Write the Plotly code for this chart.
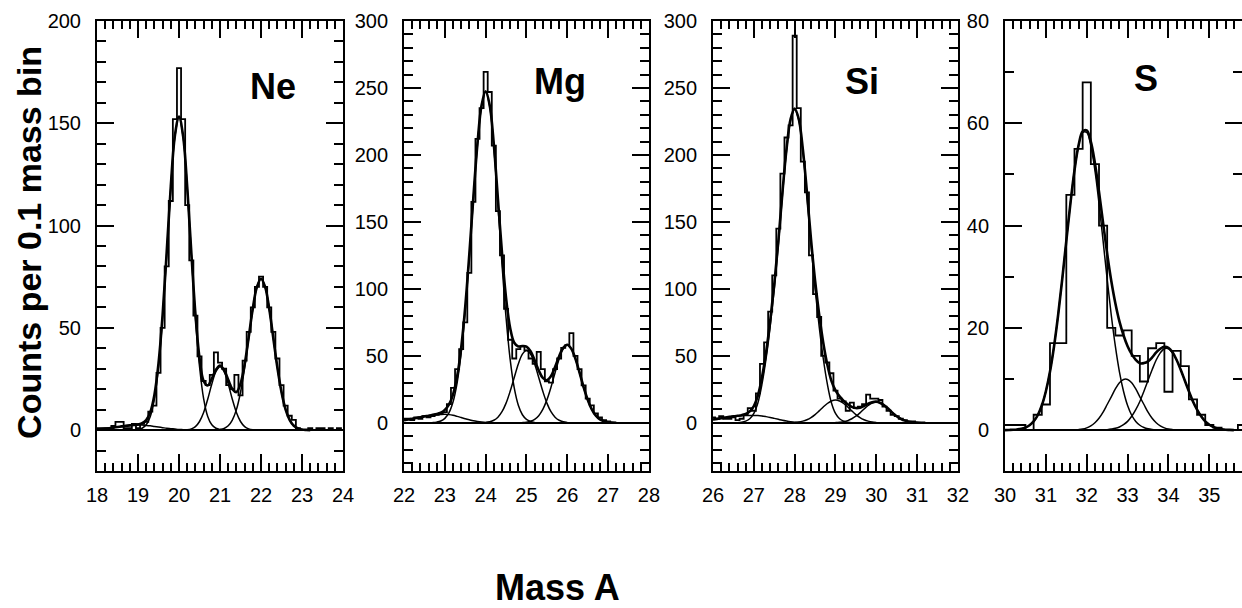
import numpy as np
import plotly.graph_objects as go
from plotly.subplots import make_subplots

# ------------------------------------------------------------------ data
# Ne panel (0.1 mass bins)
NE_X_RANGE = [18, 24]
NE_Y_RANGE = [-20, 200]
NE_HIST_X0, NE_HIST_STEP = 18.0, 0.1
NE_HIST = [1, 1, 1, 1, 2, 4, 4, 1, 1, 3,
           1, 3, 4, 9, 12, 28, 50, 80, 112, 152,
           177, 152, 110, 83, 56, 36, 24, 22, 27, 38,
           33, 30, 22, 20, 27, 17, 34, 48, 60, 70,
           75, 70, 60, 48, 35, 22, 12, 7, 5, 1,
           0, 0, 1, 0, 1, 1, 0, 1, 0, 1, 0]
NE_FIT_X0 = 18.0
NE_FIT = [0.3, 0.5, 0.7, 0.9, 1.2, 1.5, 1.8, 2.1, 2.3, 2.45,
          2.8, 3.35, 4.9, 8.8, 17.2, 32.6, 56.3, 87.1, 119.3, 144.0,
          153.3, 143.7, 118.9, 86.8, 56.8, 35.3, 24.0, 21.8, 25.1, 29.5,
          31.6, 29.4, 24.6, 20.0, 18.6, 22.7, 32.1, 45.5, 59.5, 70.0,
          74.0, 70.0, 59.3, 44.9, 30.4, 18.5, 10.0, 4.9, 2.1, 0.8,
          0.3, 0.1, 0.0]
NE_C0_X0 = 18.0
NE_C0 = [0.3, 0.5, 0.7, 0.9, 1.2, 1.5, 1.8, 2.1, 2.3, 2.45, 2.5, 2.45,
         2.3, 2.1, 1.8, 1.5, 1.2, 0.9, 0.7, 0.5, 0.3, 0.2, 0.1]
NE_C1_X0 = 18.9
NE_C1 = [0.1, 0.3, 0.9, 2.6, 6.7, 15.4, 31.1, 55.1, 86.2, 118.6, 143.5, 153,
         143.5, 118.6, 86.2, 55.1, 31.1, 15.4, 6.7, 2.6, 0.9, 0.3, 0.1]
NE_C2_X0 = 20.2
NE_C2 = [0.2, 0.6, 1.7, 4.2, 8.6, 15.1, 22.5, 28.6, 31, 28.6, 22.5, 15.1,
         8.6, 4.2, 1.7, 0.6, 0.2]
NE_C3_X0 = 21.0
NE_C3 = [0.3, 0.8, 2.1, 4.9, 10.0, 18.5, 30.4, 44.9, 59.3, 70, 74, 70,
         59.3, 44.9, 30.4, 18.5, 10.0, 4.9, 2.1, 0.8, 0.3]
NE_LABEL = ("Ne", 22.29, 168)

# Mg panel
MG_X_RANGE = [22, 28]
MG_Y_RANGE = [-36, 300]
MG_HIST_X0, MG_HIST_STEP = 22.0, 0.1
MG_HIST = [3, 3, 2, 4, 3, 5, 4, 5, 6, 7,
           8, 14, 26, 40, 55, 75, 112, 165, 212, 235,
           262, 247, 207, 158, 125, 85, 62, 48, 55, 57,
           54, 48, 44, 53, 40, 31, 30, 40, 48, 56,
           58, 67, 50, 40, 28, 18, 13, 7, 4, 2,
           1, 0, 0, 0, 0, 0, 0, 0, 0, 0, 0]
MG_FIT_X0 = 22.0
MG_FIT = [2.0, 2.5, 3.0, 3.6, 4.2, 4.8, 5.3, 5.9, 6.5, 7.5,
          9.6, 13.5, 21.1, 34.5, 56.0, 86.8, 125.9, 168.9, 208.8, 237.1,
          247.6, 237.0, 207.9, 167.2, 126.8, 93.1, 70.8, 59.8, 57.0, 57.3,
          56.9, 53.4, 46.7, 39.1, 33.5, 31.8, 34.8, 41.6, 49.6, 56.0,
          58.3, 55.2, 47.7, 37.4, 26.5, 17.1, 10.0, 5.3, 2.5, 1.1,
          0.4, 0.15, 0.0]
MG_C0_X0 = 22.0
MG_C0 = [2.0, 2.5, 3.0, 3.6, 4.2, 4.8, 5.3, 5.7, 6.0, 6.2, 6.3, 6.1,
         5.6, 4.8, 3.9, 3.0, 2.2, 1.5, 1.0, 0.6, 0.3, 0.15, 0.05]
MG_C1_X0 = 22.7
MG_C1 = [0.2, 0.5, 1.3, 3.3, 7.4, 15.5, 29.7, 52.1, 83.8, 123.7, 167.4, 207.8,
         236.5, 247, 236, 206, 163, 118.5, 78.4, 47.3, 26.0, 13.1, 6.0, 2.5,
         1.0, 0.3]
MG_C2_X0 = 24.0
MG_C2 = [0.3, 0.8, 1.9, 4.2, 8.3, 14.7, 23.5, 33.8, 43.9, 51.3, 54, 51.3,
         43.9, 33.8, 23.5, 14.7, 8.3, 4.2, 1.9, 0.8, 0.3]
MG_C3_X0 = 24.9
MG_C3 = [0.15, 0.4, 1.1, 2.5, 5.3, 10.0, 17.1, 26.5, 37.4, 47.7, 55.2, 58,
         55.2, 47.7, 37.4, 26.5, 17.1, 10.0, 5.3, 2.5, 1.1, 0.4, 0.15]
MG_LABEL = ("Mg", 25.82, 255)

# Si panel
SI_X_RANGE = [26, 32]
SI_Y_RANGE = [-36, 300]
SI_HIST_X0, SI_HIST_STEP = 26.0, 0.1
SI_HIST = [4, 3, 5, 3, 3, 4, 2, 3, 6, 11,
           9, 22, 44, 60, 83, 110, 145, 186, 213, 222,
           289, 235, 195, 172, 125, 96, 79, 50, 45, 37,
           24, 18, 16, 9, 15, 11, 12, 14, 21, 18,
           18, 17, 12, 9, 6, 5, 3, 2, 1, 1,
           0, 0, 0, 0, 0, 0, 0, 0, 0, 0, 0]
SI_FIT_X0 = 26.0
SI_FIT = [2.5, 2.9, 3.4, 3.9, 4.4, 4.8, 5.2, 5.7, 6.6, 8.5,
          12.5, 20.4, 34.1, 52.6, 76.0, 103.3, 135.6, 171.9, 204.3, 226.8,
          234.7, 226.8, 204.3, 172.3, 136.9, 106.1, 80.9, 59.8, 43.4, 31.3,
          24.2, 19.7, 16.4, 13.8, 11.9, 11.0, 11.3, 12.6, 14.2, 15.4,
          15.8, 14.8, 12.9, 10.3, 7.4, 4.9, 3.0, 1.6, 0.8, 0.4,
          0.15, 0.05, 0.0]
SI_C0_X0 = 26.0
SI_C0 = [2.5, 2.9, 3.4, 3.9, 4.4, 4.8, 5.1, 5.3, 5.4, 5.5, 5.5, 5.4,
         5.1, 4.6, 4.0, 3.3, 2.6, 1.9, 1.3, 0.8, 0.4, 0.2, 0.05]
SI_C1_X0 = 26.6
SI_C1 = [0.1, 0.4, 1.2, 3, 7, 15, 29, 48, 72, 100, 133, 170, 203, 226, 234,
         226, 203, 170, 133, 100, 72, 48, 29, 15, 7, 3, 1.2, 0.4, 0.1]
SI_C2_X0 = 28.0
SI_C2 = [0.3, 0.6, 1.25, 2.3, 3.9, 6.1, 8.9, 11.8, 14.4, 16.3, 17, 16.3,
         14.4, 11.8, 8.9, 6.1, 3.9, 2.3, 1.25, 0.6, 0.3]
SI_C3_X0 = 29.0
SI_C3 = [0.15, 0.4, 0.8, 1.6, 3.0, 4.9, 7.4, 10.3, 12.9, 14.8, 15.5, 14.8,
         12.9, 10.3, 7.4, 4.9, 3.0, 1.6, 0.8, 0.4, 0.15]
SI_LABEL = ("Si", 29.65, 255)

# S panel (0.2 mass bins, normalised per 0.1)
S_X_RANGE = [30, 35.8]
S_Y_RANGE = [-8, 80]
S_HIST_X0, S_HIST_STEP = 30.0, 0.2
S_HIST = [1, 1, 1, 0, 3, 5, 17, 17, 46, 55,
          68, 52, 40, 20, 18.5, 19.5, 14.5, 9.5, 16, 17,
          7.5, 15.5, 12.5, 6, 3, 1, 0.5, 0, 0, 1]
S_FIT_X0 = 30.0
S_FIT = [0.0, 0.03, 0.06, 0.13, 0.25, 0.5, 0.95, 1.7, 2.9, 4.8,
         7.6, 11.4, 16.4, 22.5, 29.5, 37.0, 44.3, 50.8, 55.7, 58.4,
         58.6, 56.4, 52.2, 46.6, 40.5, 34.5, 29.2, 24.8, 21.25, 18.55,
         16.4, 14.85, 13.75, 13.05, 13.1, 13.45, 14.2, 15.2, 15.9, 16.3,
         16.1, 15.2, 13.7, 11.8, 9.7, 7.6, 5.6, 4.0, 2.7, 1.7,
         1.05, 0.6, 0.33, 0.17, 0.08, 0.04, 0.0]
S_C1_X0 = 30.0
S_C1 = [0.01, 0.03, 0.06, 0.13, 0.25, 0.5, 0.95, 1.7, 2.9, 4.8,
        7.6, 11.4, 16.4, 22.5, 29.5, 37.0, 44.3, 50.8, 55.6, 58.2,
        58.2, 55.6, 50.8, 44.3, 37.0, 29.5, 22.5, 16.4, 11.4, 7.6,
        4.8, 2.9, 1.7, 0.95, 0.5, 0.25, 0.12, 0.06]
S_C2_X0 = 31.8
S_C2 = [0.1, 0.2, 0.44, 0.82, 1.43, 2.3, 3.5, 5.0, 6.5, 8.05, 9.25, 9.9,
        9.9, 9.25, 8.05, 6.5, 5.0, 3.5, 2.3, 1.43, 0.82, 0.44, 0.2, 0.1]
S_C3_X0 = 32.5
S_C3 = [0.09, 0.2, 0.34, 0.6, 1.05, 1.7, 2.7, 4.0, 5.6, 7.6, 9.7, 11.8,
        13.7, 15.1, 15.9, 15.9, 15.1, 13.7, 11.8, 9.7, 7.6, 5.6, 4.0, 2.7,
        1.7, 1.05, 0.6, 0.33, 0.17, 0.08, 0.04]
S_LABEL = ("S", 33.44, 68.7)

FIT_STEP = 0.1
Y_TITLE = "Counts per 0.1 mass bin"
X_TITLE = "Mass A"

# ------------------------------------------------------------------ figure
def grid(x0, n, step):
    return np.round(x0 + step * np.arange(n), 3)

panels = [
    dict(xr=NE_X_RANGE, yr=NE_Y_RANGE, ydt=50,
         hist=(NE_HIST_X0, NE_HIST_STEP, NE_HIST), fit=(NE_FIT_X0, NE_FIT),
         comps=[(NE_C0_X0, NE_C0), (NE_C1_X0, NE_C1), (NE_C2_X0, NE_C2), (NE_C3_X0, NE_C3)],
         label=NE_LABEL),
    dict(xr=MG_X_RANGE, yr=MG_Y_RANGE, ydt=50,
         hist=(MG_HIST_X0, MG_HIST_STEP, MG_HIST), fit=(MG_FIT_X0, MG_FIT),
         comps=[(MG_C0_X0, MG_C0), (MG_C1_X0, MG_C1), (MG_C2_X0, MG_C2), (MG_C3_X0, MG_C3)],
         label=MG_LABEL),
    dict(xr=SI_X_RANGE, yr=SI_Y_RANGE, ydt=50,
         hist=(SI_HIST_X0, SI_HIST_STEP, SI_HIST), fit=(SI_FIT_X0, SI_FIT),
         comps=[(SI_C0_X0, SI_C0), (SI_C1_X0, SI_C1), (SI_C2_X0, SI_C2), (SI_C3_X0, SI_C3)],
         label=SI_LABEL),
    dict(xr=S_X_RANGE, yr=S_Y_RANGE, ydt=20,
         hist=(S_HIST_X0, S_HIST_STEP, S_HIST), fit=(S_FIT_X0, S_FIT),
         comps=[(S_C1_X0, S_C1), (S_C2_X0, S_C2), (S_C3_X0, S_C3)],
         label=S_LABEL),
]

DOMAINS = [[0.0781, 0.2762], [0.3253, 0.5225], [0.5741, 0.7713], [0.8092, 1.0]]
FONT = "Liberation Sans, Arial, Helvetica, sans-serif"

fig = make_subplots(rows=1, cols=4)

annotations = []
for i, p in enumerate(panels):
    col = i + 1
    x0, st, vals = p["hist"]
    fig.add_trace(go.Scatter(x=grid(x0, len(vals), st), y=vals, mode="lines",
                             line=dict(shape="hvh", color="black", width=1.8),
                             hoverinfo="skip"), row=1, col=col)
    for cx0, cv in p["comps"]:
        fig.add_trace(go.Scatter(x=grid(cx0, len(cv), FIT_STEP), y=cv, mode="lines",
                                 line=dict(shape="spline", color="black", width=1.5),
                                 hoverinfo="skip"), row=1, col=col)
    fx0, fv = p["fit"]
    fig.add_trace(go.Scatter(x=grid(fx0, len(fv), FIT_STEP), y=fv, mode="lines",
                             line=dict(shape="spline", color="black", width=2.6),
                             hoverinfo="skip"), row=1, col=col)

    sfx = "" if col == 1 else str(col)
    axis_common = dict(ticks="inside", ticklen=17, tickwidth=1.8, tickcolor="black",
                       showline=True, linecolor="black", linewidth=2, mirror="ticks",
                       showgrid=False, automargin=False,
                       tickfont=dict(family=FONT, size=20, color="black"))
    fig.layout["xaxis" + sfx].update(
        range=p["xr"], domain=DOMAINS[i], tick0=0, dtick=1, zeroline=False,
        minor=dict(dtick=0.2, tick0=0, ticks="inside", ticklen=8, tickwidth=1.5,
                   tickcolor="black", showgrid=False),
        ticklabelstandoff=5, **axis_common)
    fig.layout["yaxis" + sfx].update(
        range=p["yr"], domain=[0, 1], tick0=0, dtick=p["ydt"],
        zeroline=True, zerolinecolor="black", zerolinewidth=1.5,
        minor=dict(dtick=10, tick0=0, ticks="inside", ticklen=9, tickwidth=1.5,
                   tickcolor="black", showgrid=False),
        ticklabelstandoff=10, **axis_common)

    name, lx, ly = p["label"]
    annotations.append(dict(text="<b>%s</b>" % name, x=lx, y=ly, xref="x" + sfx, yref="y" + sfx,
                            showarrow=False, xanchor="center", yanchor="middle",
                            font=dict(family=FONT, size=36, color="black")))

annotations.append(dict(text="<b>%s</b>" % Y_TITLE, x=0.0233, y=0.509, xref="paper", yref="paper",
                        textangle=-90, showarrow=False, xanchor="center", yanchor="middle",
                        font=dict(family=FONT, size=34, color="black")))
annotations.append(dict(text="<b>%s</b>" % X_TITLE, x=0.4485, y=-0.258, xref="paper", yref="paper",
                        showarrow=False, xanchor="center", yanchor="middle",
                        font=dict(family=FONT, size=36, color="black")))

fig.update_layout(width=1242, height=608, margin=dict(l=0, r=0, t=21, b=137),
                  paper_bgcolor="white", plot_bgcolor="white", showlegend=False,
                  annotations=annotations)

fig.write_html("out.html", config={"displayModeBar": False},
               post_script="document.body.style.margin='0';document.body.style.overflow='hidden';")
